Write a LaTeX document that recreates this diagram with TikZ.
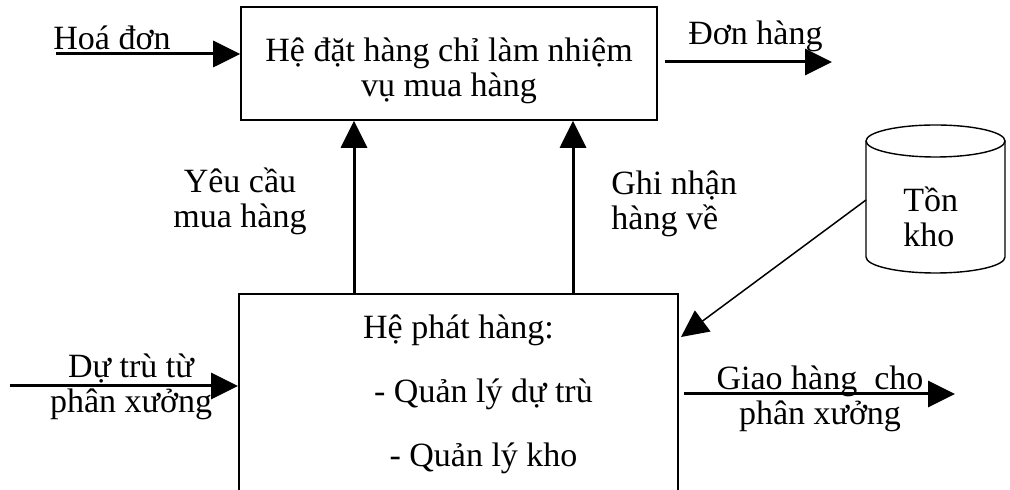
\documentclass[tikz,border=0pt]{standalone}
\usepackage{fontspec}
\setmainfont{Liberation Serif}
\usetikzlibrary{positioning, calc, arrows.meta}
\tikzset{
    hebox/.style={
        draw, line width=0.8pt, inner sep=0pt, align=center
    },
    flow/.style={
        -{Triangle[length=13.5pt, width=13pt]}, line width=1.5pt
    },
    flowlabel/.style={
        inner sep=0pt, align=center
    },
    khoarc/.style={
        x radius=34.75pt, y radius=8pt
    }
}
\begin{document}
\begin{tikzpicture}[x=0.5pt, y=-0.5pt, font=\fontsize{17}{17.5}\selectfont]
    \useasboundingbox (0,0) rectangle (1010,490);

    % Hai hệ con
    \node[hebox, minimum width=208pt, minimum height=56.5pt] (dathang) at (449,63.5)
        {\rule{0pt}{19pt}Hệ đặt hàng chỉ làm nhiệm\\vụ mua hàng};
    \node[hebox, line width=1pt, minimum width=219.5pt, minimum height=100pt] (phathang) at (458.5,394)
        {Hệ phát hàng:\\[14.5pt]\hspace*{25pt}- Quản lý dự trù\\[14.5pt]\hspace*{25pt}- Quản lý kho};

    % Kho
    \coordinate (khotop) at (935.5,141);
    \coordinate (khobot) at (935.5,257);
    \coordinate (khoside) at (866,200);
    \draw[line width=0.7pt] (khotop) ellipse[khoarc];
    \draw[line width=0.7pt] ($(khotop)+(-69.5,0)$) -- ($(khobot)+(-69.5,0)$)
        arc[start angle=180, end angle=360, khoarc] -- ($(khotop)+(69.5,0)$);
    \node[flowlabel, align=left, anchor=base west] (tonkho) at (903,247) {Tồn\\kho};

    % Điểm đầu, điểm cuối
    \coordinate (hoadon) at (56,54);
    \coordinate (donhang) at (832,62);
    \coordinate (yeucau) at (354,0);
    \coordinate (ghinhan) at (573,0);
    \coordinate (dutru) at (10,386);
    \coordinate (giaohang) at (955,394);

    \draw[flow] (hoadon) -- (hoadon -| dathang.west);
    \draw[flow] ($(dathang.east |- donhang)+(7,0)$) -- (donhang);
    \draw[flow] (phathang.north -| yeucau) -- (dathang.south -| yeucau);
    \draw[flow] (phathang.north -| ghinhan) -- (dathang.south -| ghinhan);
    \draw[flow] (dutru) -- (dutru -| phathang.west);
    \draw[flow] ($(phathang.east |- giaohang)+(5,0)$) -- (giaohang);
    \draw[flow, line width=0.75pt] (khoside) -- ($(phathang.north east)+(2,44)$);

    % Nhãn
    \node[flowlabel, anchor=base west] (lbhoadon) at (53,50) {Hoá đơn};
    \node[flowlabel, anchor=base west] (lbdonhang) at (688,45) {Đơn hàng};
    \node[flowlabel, anchor=base] (lbyeucau) at (240,228) {Yêu cầu\\mua hàng};
    \node[flowlabel, anchor=base west, align=left] (lbghinhan) at (611,230) {Ghi nhận\\hàng về};
    \node[flowlabel, anchor=base] (lbdutru) at (131,413) {Dự trù từ\\phân xưởng};
    \node[flowlabel, anchor=base] (lbgiaohang) at (820,425) {Giao hàng\ \ cho\\phân xưởng};

\end{tikzpicture}
\end{document}
